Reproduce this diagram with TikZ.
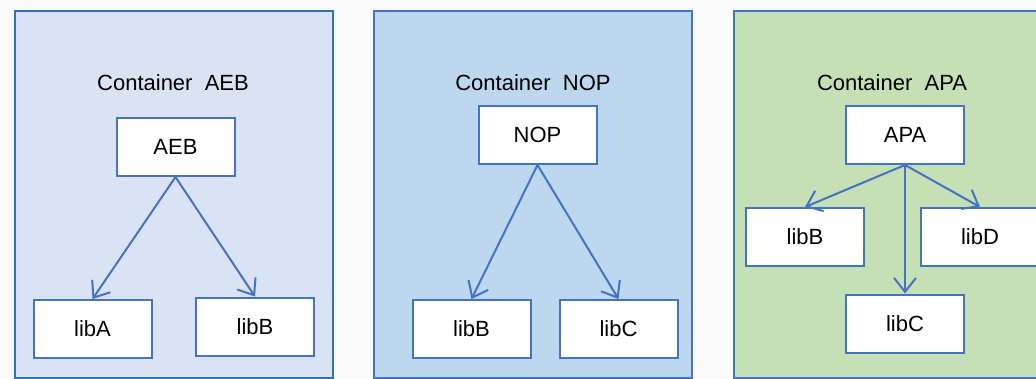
\documentclass[tikz,border=0pt]{standalone}
\usepackage{fontspec}
\setmainfont{Liberation Sans}
\usepackage{tikz}
\usetikzlibrary{arrows.meta, positioning}
\definecolor{boxblue}{HTML}{4472C4}
\definecolor{edgeblue}{HTML}{2E75B6}
\definecolor{paleblue}{HTML}{DAE3F3}
\definecolor{skyblue}{HTML}{BDD7EE}
\definecolor{palegreen}{HTML}{C5E0B4}

\begin{document}
\begin{tikzpicture}[x=0.5pt,y=-0.5pt,
	libstyle/.style={draw=boxblue,fill=white,line width=1pt,rectangle,
		minimum width=59pt,minimum height=29pt,inner sep=0pt,
		font=\fontsize{11}{13}\selectfont},
	titlestyle/.style={inner sep=0pt,font=\fontsize{11}{13}\selectfont},
	depstyle/.style={draw=boxblue,line width=1pt,-{Straight Barb[length=7pt,width=11pt]}}
]
	\path[clip] (0,0) rectangle (1036,379);
	\fill[white!98!black] (0,0) rectangle (1036,379);

	% containers
	\draw[edgeblue,line width=1pt,fill=paleblue] (15,11) rectangle (333,378);
	\draw[boxblue,line width=1pt,fill=skyblue] (374,11) rectangle (692,378);
	\draw[boxblue,line width=1pt,fill=palegreen] (734,11) rectangle (1046,378);

	% container AEB
	\node[titlestyle] at (173,83) (tAEB) {Container\ \ AEB};
	\node[libstyle] at (175.5,147) (aeb) {AEB};
	\node[libstyle] at (92.5,329) (aebA) {libA};
	\node[libstyle] at (255,326.5) (aebB) {libB};
	\draw[depstyle] (aeb.south) -- (aebA.north);
	\draw[depstyle] (aeb.south) -- (aebB.north);

	% container NOP
	\node[titlestyle] at (533,83) (tNOP) {Container\ \ NOP};
	\node[libstyle] at (537.5,135) (nop) {NOP};
	\node[libstyle] at (471.5,329) (nopB) {libB};
	\node[libstyle] at (618.5,329) (nopC) {libC};
	\draw[depstyle] (nop.south) -- (nopB.north);
	\draw[depstyle] (nop.south) -- (nopC.north);

	% container APA
	\node[titlestyle] at (892,83) (tAPA) {Container\ \ APA};
	\node[libstyle] at (905,135) (apa) {APA};
	\node[libstyle] at (805,237) (apaB) {libB};
	\node[libstyle] at (980,237) (apaD) {libD};
	\node[libstyle] at (905,323.5) (apaC) {libC};
	\draw[depstyle] (apa.south) -- (apaB.north);
	\draw[depstyle] (apa.south) -- (apaC.north);
	\draw[depstyle] (apa.south) -- (apaD.north);
\end{tikzpicture}
\end{document}
